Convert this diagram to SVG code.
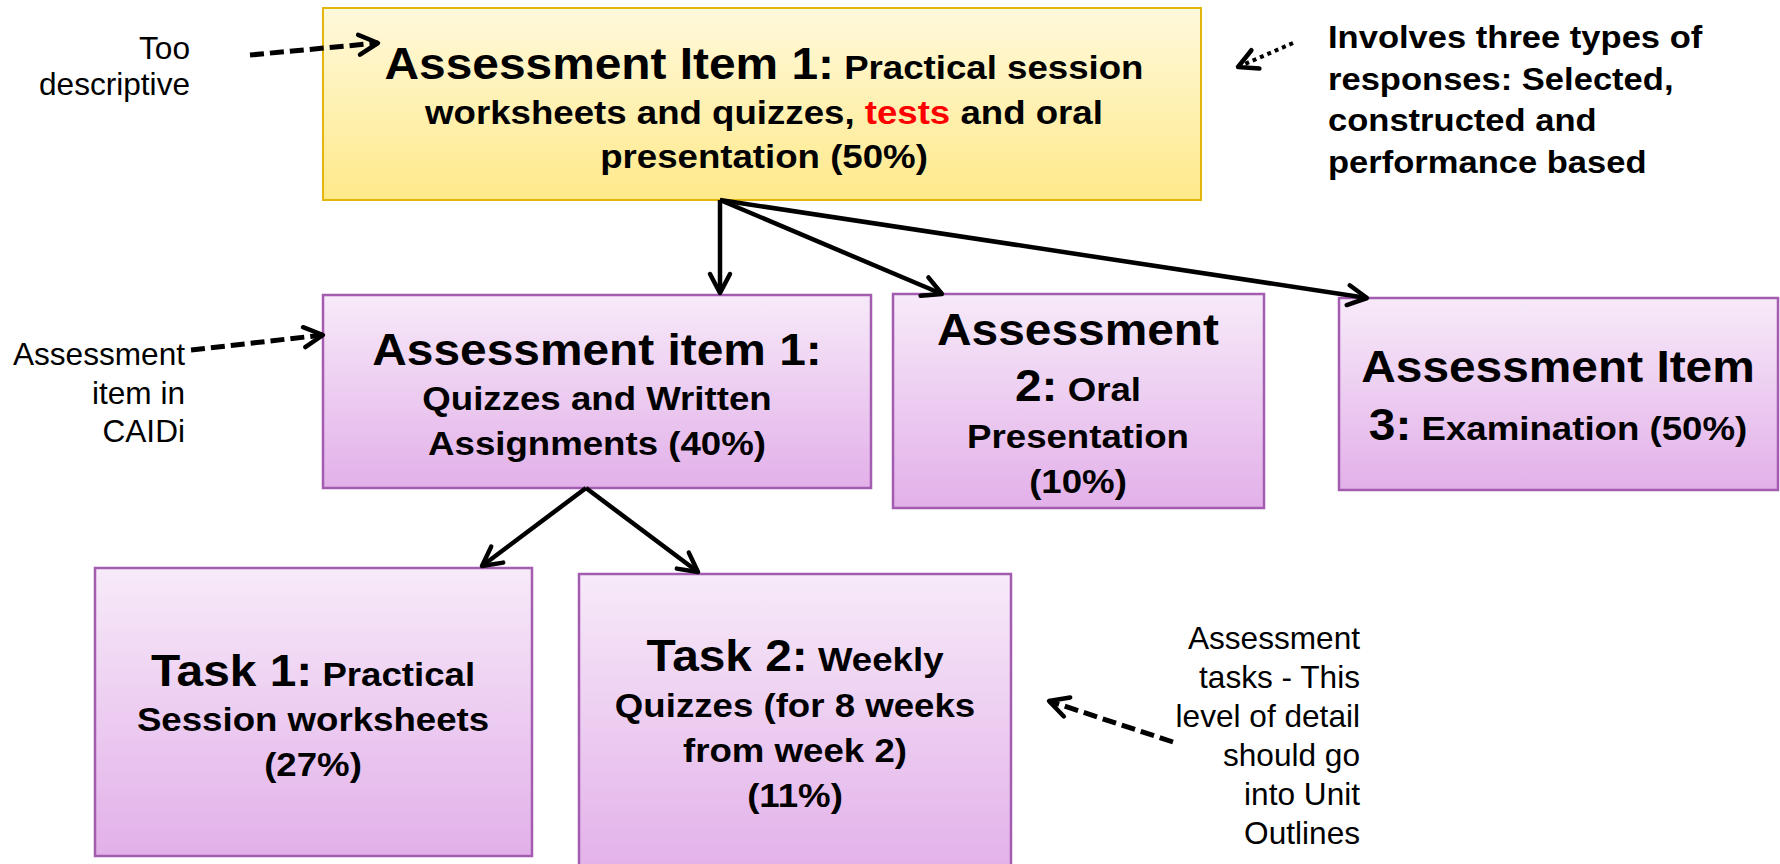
<svg xmlns="http://www.w3.org/2000/svg" width="1780" height="864" viewBox="0 0 1780 864">
<style>
  .b{font-family:"Liberation Sans",Arial,sans-serif;font-weight:bold;fill:#000}
  .r{font-family:"Liberation Sans",Arial,sans-serif;font-weight:normal;fill:#000;font-size:31.6px}
  .h{font-size:43.5px}
  .s{font-size:33.3px}
  .a{font-size:31.4px}
  .ybox{fill:url(#gy);stroke:#E2B60A;stroke-width:2}
  .pbox{fill:url(#gp);stroke:#A35CB0;stroke-width:2.5}
  .solid{fill:none;stroke:#000;stroke-width:4.5;marker-end:url(#arr)}
  .dash{fill:none;stroke:#000;stroke-width:5;stroke-dasharray:14 6;marker-end:url(#arr)}
  .dot{fill:none;stroke:#000;stroke-width:4;stroke-dasharray:4 4;marker-end:url(#arr)}
</style>
<defs>
  <linearGradient id="gy" x1="0" y1="0" x2="0" y2="1">
    <stop offset="0" stop-color="#FFF9DC"/>
    <stop offset="1" stop-color="#FFE98A"/>
  </linearGradient>
  <linearGradient id="gp" x1="0" y1="0" x2="0" y2="1">
    <stop offset="0" stop-color="#F7EAF9"/>
    <stop offset="1" stop-color="#E2B0E9"/>
  </linearGradient>
  <marker id="arr" markerUnits="userSpaceOnUse" markerWidth="30" markerHeight="30" viewBox="0 0 30 30" refX="24" refY="15" orient="auto">
    <path d="M5,5 L24,15 L5,25" fill="none" stroke="#000" stroke-width="4.5" stroke-linecap="round" stroke-linejoin="round"/>
  </marker>
</defs>
<rect width="1780" height="864" fill="#FFFFFF"/>

<g id="n-top">
  <rect class="ybox" x="323" y="8" width="878" height="192"/>
  <text class="b" transform="translate(764 0) scale(1.1 1)" y="79" text-anchor="middle"><tspan class="h">Assessment Item 1:</tspan><tspan class="s"> Practical session</tspan></text>
  <text class="b s" transform="translate(764 0) scale(1.1 1)" y="124" text-anchor="middle">worksheets and quizzes, <tspan fill="#FF0000">tests</tspan> and oral</text>
  <text class="b s" transform="translate(764 0) scale(1.1 1)" y="168" text-anchor="middle">presentation (50%)</text>
</g>

<g id="n-item1">
  <rect class="pbox" x="323" y="295" width="548" height="193"/>
  <text class="b h" transform="translate(597 0) scale(1.1 1)" y="365" text-anchor="middle">Assessment item 1:</text>
  <text class="b s" transform="translate(597 0) scale(1.1 1)" y="410" text-anchor="middle">Quizzes and Written</text>
  <text class="b s" transform="translate(597 0) scale(1.1 1)" y="455" text-anchor="middle">Assignments (40%)</text>
</g>

<g id="n-item2">
  <rect class="pbox" x="893" y="294" width="371" height="214"/>
  <text class="b h" transform="translate(1078 0) scale(1.1 1)" y="345" text-anchor="middle">Assessment</text>
  <text class="b" transform="translate(1078 0) scale(1.1 1)" y="401" text-anchor="middle"><tspan class="h">2:</tspan><tspan class="s"> Oral</tspan></text>
  <text class="b s" transform="translate(1078 0) scale(1.1 1)" y="448" text-anchor="middle">Presentation</text>
  <text class="b s" transform="translate(1078 0) scale(1.1 1)" y="493" text-anchor="middle">(10%)</text>
</g>

<g id="n-item3">
  <rect class="pbox" x="1339" y="298" width="439" height="192"/>
  <text class="b h" transform="translate(1558 0) scale(1.1 1)" y="382" text-anchor="middle">Assessment Item</text>
  <text class="b" transform="translate(1558 0) scale(1.1 1)" y="440" text-anchor="middle"><tspan class="h">3:</tspan><tspan class="s"> Examination (50%)</tspan></text>
</g>

<g id="n-task1">
  <rect class="pbox" x="95" y="568" width="437" height="288"/>
  <text class="b" transform="translate(313 0) scale(1.1 1)" y="686" text-anchor="middle"><tspan class="h">Task 1:</tspan><tspan class="s"> Practical</tspan></text>
  <text class="b s" transform="translate(313 0) scale(1.1 1)" y="731" text-anchor="middle">Session worksheets</text>
  <text class="b s" transform="translate(313 0) scale(1.1 1)" y="776" text-anchor="middle">(27%)</text>
</g>

<g id="n-task2">
  <rect class="pbox" x="579" y="574" width="432" height="300"/>
  <text class="b" transform="translate(795 0) scale(1.1 1)" y="671" text-anchor="middle"><tspan class="h">Task 2:</tspan><tspan class="s"> Weekly</tspan></text>
  <text class="b s" transform="translate(795 0) scale(1.1 1)" y="717" text-anchor="middle">Quizzes (for 8 weeks</text>
  <text class="b s" transform="translate(795 0) scale(1.1 1)" y="762" text-anchor="middle">from week 2)</text>
  <text class="b s" transform="translate(795 0) scale(1.1 1)" y="807" text-anchor="middle">(11%)</text>
</g>

<g id="note-too">
  <text class="r" x="190" y="59" text-anchor="end">Too</text>
  <text class="r" x="190" y="95" text-anchor="end">descriptive</text>
</g>

<g id="note-caidi">
  <text class="r" x="185" y="365" text-anchor="end">Assessment</text>
  <text class="r" x="185" y="404" text-anchor="end">item in</text>
  <text class="r" x="185" y="442" text-anchor="end">CAIDi</text>
</g>

<g id="note-involves">
  <text class="b a" transform="translate(1328 0) scale(1.1 1)" y="48">Involves three types of</text>
  <text class="b a" transform="translate(1328 0) scale(1.1 1)" y="90">responses: Selected,</text>
  <text class="b a" transform="translate(1328 0) scale(1.1 1)" y="131">constructed and</text>
  <text class="b a" transform="translate(1328 0) scale(1.1 1)" y="173">performance based</text>
</g>

<g id="note-tasks">
  <text class="r" x="1360" y="649" text-anchor="end">Assessment</text>
  <text class="r" x="1360" y="688" text-anchor="end">tasks - This</text>
  <text class="r" x="1360" y="727" text-anchor="end">level of detail</text>
  <text class="r" x="1360" y="766" text-anchor="end">should go</text>
  <text class="r" x="1360" y="805" text-anchor="end">into Unit</text>
  <text class="r" x="1360" y="844" text-anchor="end">Outlines</text>
</g>

<g id="connectors">
  <line class="solid" x1="720" y1="200" x2="720" y2="293"/>
  <line class="solid" x1="720" y1="200" x2="942" y2="294"/>
  <line class="solid" x1="720" y1="200" x2="1367" y2="298"/>
  <line class="solid" x1="586" y1="488" x2="482" y2="566"/>
  <line class="solid" x1="586" y1="488" x2="698" y2="572"/>
  <line class="dash" x1="250" y1="55" x2="378" y2="43"/>
  <line class="dash" x1="191" y1="350" x2="323" y2="335"/>
  <line class="dot" x1="1293" y1="43" x2="1238" y2="67"/>
  <line class="dash" x1="1173" y1="742" x2="1049" y2="701"/>
</g>
</svg>
